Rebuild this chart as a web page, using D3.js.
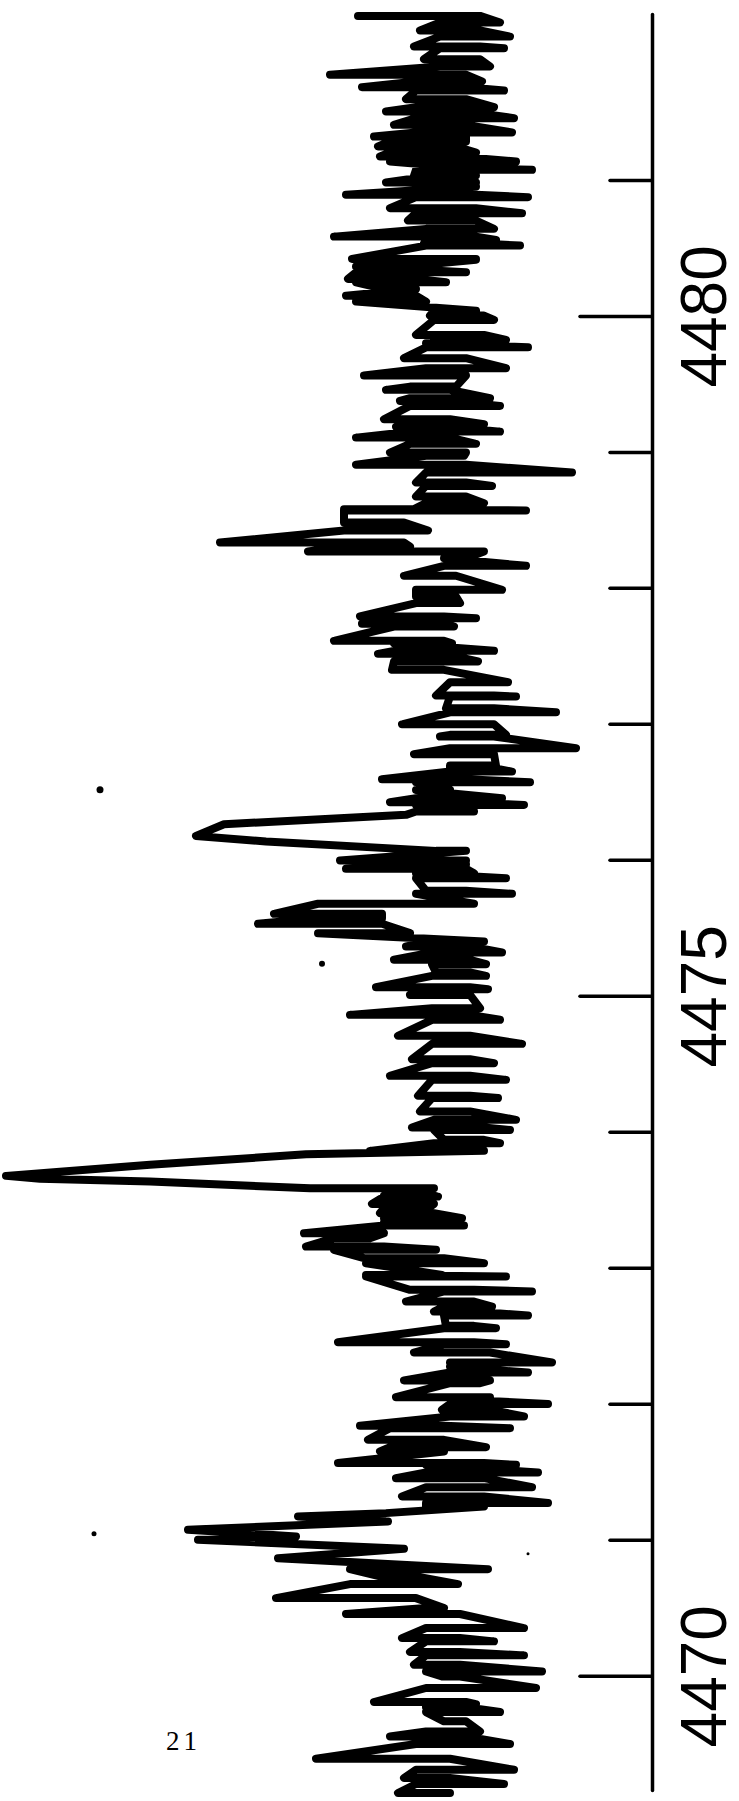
<!DOCTYPE html>
<html>
<head>
<meta charset="utf-8">
<script src="https://cdn.jsdelivr.net/npm/d3@7/dist/d3.min.js"></script>
<style>
    body { margin: 0; background: #fff; }
    svg { display: block; }
    .trace { fill: none; stroke: #000; stroke-width: 8; stroke-linecap: round; stroke-linejoin: round; }
    .axis path, .axis line { stroke: #000; stroke-width: 3.5; stroke-linecap: round; }
    .axis text { font-family: "Liberation Sans", Arial, sans-serif; font-size: 64px; fill: #000; }
    .pageNo { font-family: "Liberation Serif", serif; font-size: 27px; letter-spacing: 4px; fill: #000; }
</style>
</head>
<body>
<div id="chart"></div>
<script>
'use strict';

// Wavelength (Angstrom) of each pen excursion tip, read top to bottom
const wavelength = [
    4482.206, 4482.157, 4482.099, 4482.054, 4481.981, 4481.969, 4481.888, 4481.834, 4481.773, 4481.724,
    4481.682, 4481.657, 4481.594, 4481.535, 4481.503, 4481.454, 4481.405, 4481.349, 4481.319, 4481.282,
    4481.246, 4481.201, 4481.172, 4481.135, 4481.099, 4481.074, 4481.030, 4481.013, 4480.981, 4480.951,
    4480.890, 4480.873, 4480.792, 4480.755, 4480.701, 4480.640, 4480.583, 4480.559, 4480.534, 4480.517,
    4480.419, 4480.412, 4480.363, 4480.321, 4480.272, 4480.247, 4480.198, 4480.149, 4480.105, 4480.037,
    4480.002, 4479.970, 4479.860, 4479.823, 4479.799, 4479.769, 4479.689, 4479.615, 4479.561, 4479.480,
    4479.456, 4479.395, 4479.375, 4479.338, 4479.240, 4479.203, 4479.184, 4479.149, 4479.105, 4479.059,
    4478.995, 4478.971, 4478.905, 4478.848, 4478.775, 4478.750, 4478.672, 4478.623, 4478.579, 4478.569,
    4478.481, 4478.422, 4478.334, 4478.304, 4478.267, 4478.218, 4478.162, 4478.089, 4477.986, 4477.937,
    4477.888, 4477.790, 4477.777, 4477.736, 4477.716, 4477.611, 4477.593, 4477.537, 4477.515, 4477.459,
    4477.397, 4477.306, 4477.208, 4477.201, 4477.115, 4477.085, 4476.997, 4476.919, 4476.907, 4476.821,
    4476.777, 4476.693, 4476.674, 4476.649, 4476.593, 4476.571, 4476.514, 4476.453, 4476.424, 4476.404,
    4476.355, 4476.331, 4476.262, 4476.176, 4476.135, 4476.066, 4475.995, 4475.968, 4475.934, 4475.902,
    4475.865, 4475.772, 4475.750, 4475.677, 4475.603, 4475.571, 4475.530, 4475.461, 4475.400, 4475.363,
    4475.319, 4475.265, 4475.233, 4475.172, 4475.147, 4475.064, 4475.049, 4475.007, 4474.909, 4474.860,
    4474.824, 4474.706, 4474.647, 4474.534, 4474.505, 4474.412, 4474.382, 4474.265, 4474.248, 4474.150,
    4474.088, 4474.031, 4474.014, 4473.941, 4473.916, 4473.860, 4473.835, 4473.757, 4473.706, 4473.676,
    4473.654, 4473.634, 4473.585, 4473.531, 4473.524, 4473.470, 4473.438, 4473.402, 4473.365, 4473.335,
    4473.311, 4473.254, 4473.218, 4473.156, 4473.132, 4473.071, 4473.034, 4472.948, 4472.936, 4472.838,
    4472.826, 4472.752, 4472.715, 4472.678, 4472.649, 4472.573, 4472.556, 4472.453, 4472.438, 4472.377,
    4472.304, 4472.274, 4472.230, 4472.172, 4472.152, 4472.049, 4472.034, 4471.999, 4471.956, 4471.907,
    4471.838, 4471.821, 4471.735, 4471.681, 4471.649, 4471.564, 4471.551, 4471.495, 4471.453, 4471.387,
    4471.319, 4471.270, 4471.245, 4471.196, 4471.172, 4471.135, 4471.074, 4471.025, 4471.000, 4470.934,
    4470.865, 4470.784, 4470.731, 4470.674, 4470.571, 4470.498, 4470.454, 4470.351, 4470.277, 4470.253,
    4470.174, 4470.150, 4470.081, 4470.032, 4469.995, 4469.910, 4469.807, 4469.792, 4469.768, 4469.733,
    4469.665, 4469.591, 4469.554, 4469.498, 4469.390, 4469.309, 4469.248, 4469.204, 4469.138
];

// Recorder deflection at each tip (arbitrary units), same order
const flux = [
    146, 75, 115, 70, 118, 73, 113, 80, 160, 84,
    144, 73, 122, 78, 132, 68, 128, 69, 138, 92,
    136, 87, 135, 67, 100, 59, 118, 90, 132, 103,
    152, 61, 130, 64, 121, 78, 158, 77, 113, 65,
    149, 103, 123, 92, 151, 102, 133, 152, 112, 87,
    110, 78, 117, 72, 87, 61, 123, 72, 143, 97,
    132, 80, 125, 75, 133, 83, 127, 75, 147, 87,
    130, 93, 147, 39, 117, 79, 117, 83, 118, 62,
    153, 111, 215, 120, 171, 92, 62, 123, 74, 117,
    95, 145, 87, 144, 98, 158, 99, 78, 136, 86,
    129, 71, 107, 67, 102, 47, 124, 72, 105, 37,
    118, 77, 100, 69, 134, 60, 100, 74, 130, 63,
    88, 122, 213, 227, 192, 107, 155, 118, 152, 88,
    72, 112, 69, 88, 188, 134, 196, 120, 83, 122,
    74, 128, 82, 107, 82, 137, 81, 120, 85, 150,
    75, 126, 64, 119, 78, 130, 72, 116, 76, 115,
    67, 119, 70, 103, 75, 140, 172, 250, 295, 322,
    305, 250, 170, 133, 106, 139, 111, 135, 94, 117,
    93, 173, 140, 172, 107, 143, 83, 104, 72, 120,
    59, 122, 79, 108, 61, 102, 77, 156, 72, 118,
    49, 90, 61, 123, 85, 127, 80, 51, 104, 63,
    145, 70, 141, 82, 135, 156, 67, 56, 127, 59,
    124, 51, 112, 132, 176, 131, 231, 177, 226, 123,
    186, 81, 135, 96, 187, 103, 152, 63, 124, 78,
    120, 63, 118, 54, 104, 57, 138, 87, 112, 75,
    103, 85, 130, 70, 167, 68, 123, 73, 126
];

// Dense noise band (the black core of the trace): upper wavelength of each stretch,
// its high and low deflection edges; null where the pen runs out on a line
const bandTop = [
    4482.30, 4481.80, 4481.30, 4481.10, 4480.67, 4480.40, 4480.10, 4479.80, 4479.50, 4479.02,
    4478.60, 4478.30, 4478.10, 4477.80, 4477.36, 4476.60, 4476.35, 4476.07, 4475.70, 4475.40,
    4474.10, 4473.85, 4473.60, 4473.30, 4473.10, 4472.90, 4472.40, 4471.90, 4471.60, 4471.20,
    4470.80, 4470.50, 4469.90, 4469.50
];
const bandHigh = [
    105, 117, 130, 117, 112, 147, 108, 112, 120, 112,
    153, 103, 117, 128, 100, 117, null, 117, 166, 109,
    108, null, 133, 158, 142, 103, 100, 130, 112, null,
    150, 112, 112, 117
];
const bandLow = [
    85, 92, 97, 87, 87, 117, 83, 92, 100, 92,
    123, 83, 97, 103, 78, 92, null, 92, 134, 90,
    83, null, 108, 133, 103, 88, 80, 103, 83, null,
    117, 95, 92, 100
];

// Axis ticks
const minorTicks = [4471, 4472, 4473, 4474, 4476, 4477, 4478, 4479, 4481];
const majorTicks = [4470, 4475, 4480];
const majorLabels = ['4470', '4475', '4480'];

// Stray specks on the scan
const speckWl = [4476.515, 4475.235, 4471.044, 4470.897];
const speckFlux = [275, 164, 278, 61];
const speckR = [3.5, 3, 2.5, 1.5];

const pageNumber = '21';

class Spectrum {

    svgW = 739;
    svgH = 1801;
    axisX = 652;

    constructor(_target) {
        this.target = _target;
        this.init();
    }

    init() {
        const vis = this;

        vis.svg = d3.select(`#${vis.target}`)
            .append('svg')
            .attr('width', vis.svgW)
            .attr('height', vis.svgH);

        // deflection grows to the left, wavelength grows upward
        vis.x = d3.scaleLinear()
            .domain([0, 325])
            .range([650, 0]);
        vis.y = d3.scaleLinear()
            .domain([4469.16, 4482.22])
            .range([1790, 14]);

        vis.wrangle();
    }

    wrangle() {
        const vis = this;

        // each tip is an out-and-back stroke of the pen: after the tip it
        // swings back across the noise band to the far edge
        vis.points = [];
        wavelength.forEach((w, i) => {
            const f = flux[i];
            vis.points.push({wl: w, f: f});
            const j = bandTop.findIndex((t, k) => w <= t && (k === bandTop.length - 1 || w > bandTop[k + 1]));
            if (j < 0 || bandHigh[j] === null) return;
            const mid = (bandHigh[j] + bandLow[j]) / 2;
            vis.points.push({wl: w, f: f > mid ? bandLow[j] : bandHigh[j]});
        });

        vis.specks = speckWl.map((w, i) => ({wl: w, f: speckFlux[i], r: speckR[i]}));
        vis.render();
    }

    render() {
        const vis = this;

        // Trace
        const line = d3.line()
            .x(d => vis.x(d.f))
            .y(d => vis.y(d.wl));
        vis.svg.append('path')
            .datum(vis.points)
            .attr('class', 'trace')
            .attr('d', line);

        // Specks
        vis.svg.selectAll('.speck')
            .data(vis.specks)
            .join('circle')
            .attr('class', 'speck')
            .attr('cx', d => vis.x(d.f))
            .attr('cy', d => vis.y(d.wl))
            .attr('r', d => d.r)
            .attr('fill', '#000');

        // Minor ticks + axis line
        vis.svg.append('g')
            .attr('class', 'axis')
            .attr('transform', `translate(${vis.axisX},0)`)
            .call(d3.axisRight(vis.y)
                .tickValues(minorTicks)
                .tickSizeInner(-42)
                .tickSizeOuter(0)
                .tickFormat(''));

        // Major ticks with rotated labels
        const major = vis.svg.append('g')
            .attr('class', 'axis')
            .attr('transform', `translate(${vis.axisX},0)`)
            .call(d3.axisRight(vis.y)
                .tickValues(majorTicks)
                .tickSizeInner(-72)
                .tickSizeOuter(0)
                .tickFormat((d, i) => majorLabels[i]));
        major.select('.domain').remove();
        major.selectAll('text')
            .attr('x', null)
            .attr('dy', null)
            .attr('text-anchor', 'middle')
            .attr('transform', 'translate(74,0) rotate(-90)');

        // Page number
        vis.svg.append('text')
            .attr('class', 'pageNo')
            .attr('x', 166)
            .attr('y', 1750)
            .text(pageNumber);
    }
}

new Spectrum('chart');
</script>
</body>
</html>
